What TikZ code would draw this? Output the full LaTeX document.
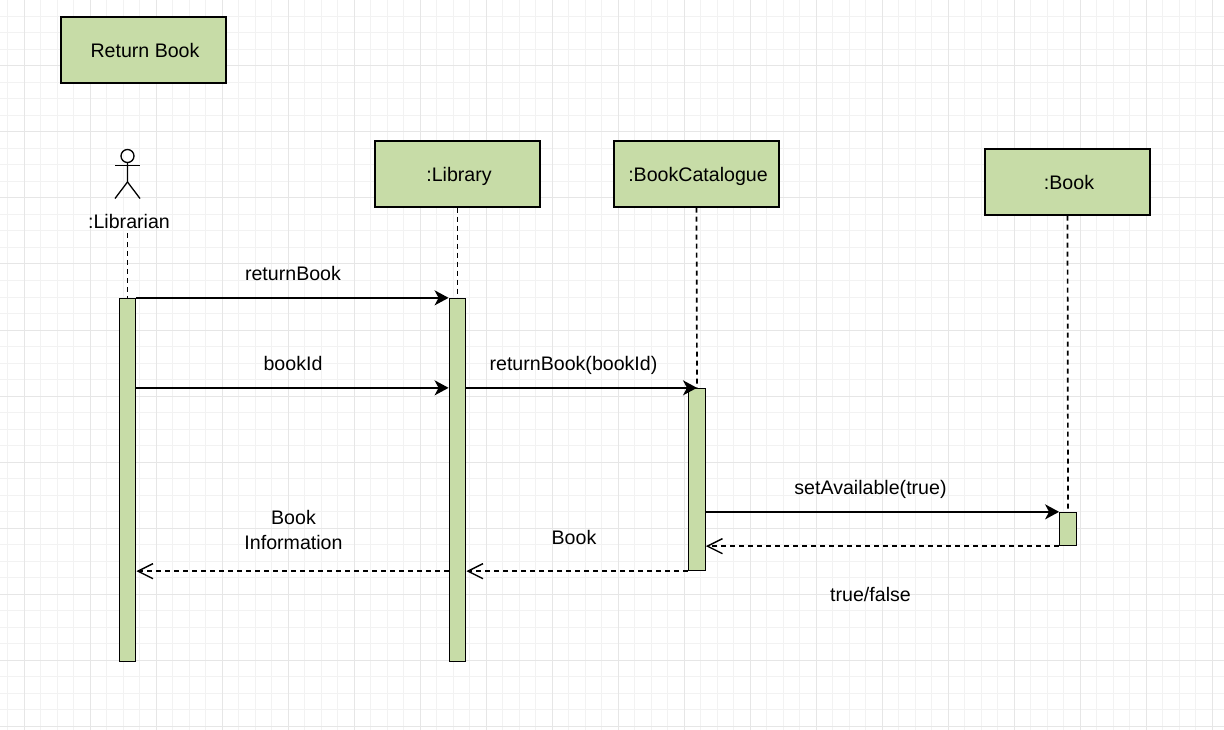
\documentclass[tikz,border=0pt]{standalone}
\usepackage{fontspec}
\setmainfont{Liberation Sans}
\usetikzlibrary{arrows.meta}

\definecolor{boxgreen}{HTML}{C7DCA7}
\definecolor{gridmajor}{HTML}{E6E6E6}
\definecolor{gridminor}{HTML}{F2F2F2}

\begin{document}
\begin{tikzpicture}[%
    x=1pt,
    y=-1pt,
    line width=1.3pt,
    label/.style={font=\fontsize{19.6}{25}\selectfont, align=center, inner sep=0pt, text height=18pt, text depth=4pt},
    object/.style={draw, fill=boxgreen, minimum width=165pt, minimum height=66pt, label, text depth=2pt, execute at begin node={\hspace*{3pt}}},
    bar/.style={draw, fill=boxgreen, minimum width=16.5pt, inner sep=0pt},
    lifeline/.style={line width=1.7pt, dash pattern=on 5pt off 4pt},
    call/.style={line width=1.8pt, -{Stealth[length=14pt,width=15pt,inset=4pt]}},
    reply/.style={line width=1.7pt, dash pattern=on 5pt off 4pt, -{Straight Barb[length=15pt,width=15pt,line width=1.4pt]}}
  ]
    \useasboundingbox (0,0) rectangle (1224,730);

    % grid
    \foreach \x in {0,...,74} \draw[gridminor, line width=1pt] ({7.5+16.5*\x},0) -- ({7.5+16.5*\x},730);
    \foreach \y in {0,...,44} \draw[gridminor, line width=1pt] (0,{16.5*\y}) -- (1224,{16.5*\y});
    \foreach \x in {0,...,18} \draw[gridmajor, line width=1pt] ({24+66*\x},0) -- ({24+66*\x},730);
    \foreach \y in {0,...,11} \draw[gridmajor, line width=1pt] (0,{66*\y}) -- (1224,{66*\y});

    \node[object] (title) at (143.5,50) {Return Book};
    \node[object] (library) at (457.5,174) {:Library};
    \node[object] (catalogue) at (696.5,174) {:BookCatalogue};
    \node[object] (book) at (1067.5,182) {:Book};

    % actor
    \node[draw, circle, minimum size=13pt, inner sep=0pt] (head) at (127.5,156) {};
    \coordinate (hip) at (127.5,182);
    \coordinate (armL) at (115,165.5);
    \coordinate (armR) at (140,165.5);
    \coordinate (footL) at (115,198.5);
    \coordinate (footR) at (140,198.5);
    \draw (head.south) -- (hip) -- (footL);
    \draw (hip) -- (footR);
    \draw (armL) -- (armR);
    \node[label] (librarian) at (129,222) {:Librarian};
    \coordinate (librarianEnd) at (127.5,233);

    % activation bars
    \node[bar, minimum height=363pt] (barA) at (127.5,480) {};
    \node[bar, minimum height=363pt] (barB) at (457.5,480) {};
    \node[bar, minimum height=182pt] (barC) at (697,479.5) {};
    \node[bar, minimum height=33pt] (barD) at (1068,529) {};

    \draw[lifeline] (librarianEnd) -- (barA.north);
    \draw[lifeline] (library.south) -- (barB.north);
    \draw[lifeline] (catalogue.south) -- (barC.north);
    \draw[lifeline] (book.south) -- (barD.north);

    \path[call] (barA.north east) edge (barB.north west)
                (barA.east |- barC.north) edge (barB.west |- barC.north)
                (barB.east |- barC.north) edge (barC.north)
                (barC.east |- barD.north) edge (barD.north west);
    \path[reply] (barD.south west) edge (barC.east |- barD.south)
                 (barC.south west) edge (barB.east |- barC.south)
                 (barB.west |- barC.south) edge (barA.east |- barC.south);

    \node[label] (msgA) at (293,273) {returnBook};
    \node[label] (msgB) at (293,363) {bookId};
    \node[label] (msgC) at (573.5,363) {returnBook(bookId)};
    \node[label] (msgD) at (870.5,487) {setAvailable(true)};
    \node[label] (msgE) at (870.5,594) {true/false};
    \node[label] (msgF) at (574,537) {Book};
    \node[label] (msgG) at (293.5,542) {Book\\Information};
  \end{tikzpicture}
\end{document}
